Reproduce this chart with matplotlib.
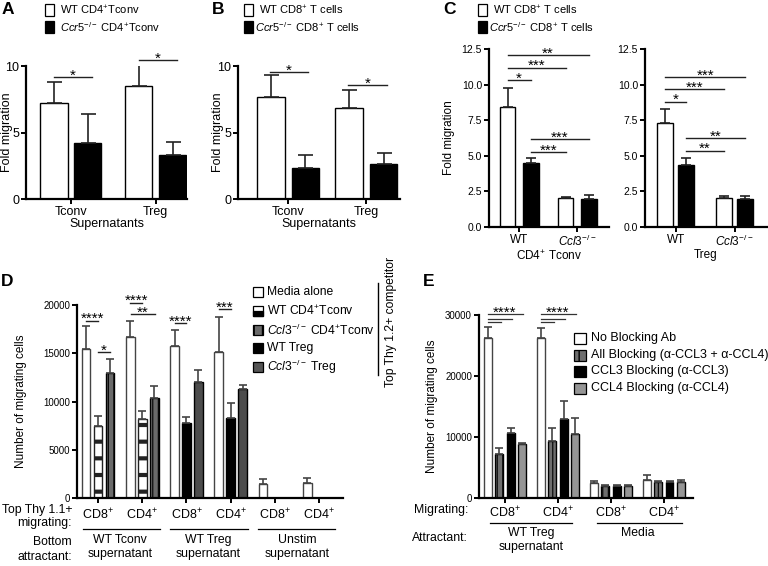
import matplotlib
matplotlib.use('Agg')
import matplotlib.pyplot as plt
import matplotlib.transforms as mtrans
from matplotlib.patches import Rectangle
from matplotlib.lines import Line2D
import numpy as np

plt.rcParams['font.family'] = ['Liberation Sans', 'DejaVu Sans']
plt.rcParams['mathtext.fontset'] = 'custom'
plt.rcParams['mathtext.rm'] = 'Liberation Sans'
plt.rcParams['mathtext.it'] = 'Liberation Sans:italic'
plt.rcParams['mathtext.bf'] = 'Liberation Sans:bold'
plt.rcParams['hatch.linewidth'] = 1.0

# ------------------------------------------------------------------ data
# Panel A (fold migration, CD4+ Tconv)
a_groups = ['Tconv', 'Treg']
a_wt = [7.2, 8.5]
a_wt_err = [1.6, 1.65]
a_ko = [4.2, 3.3]
a_ko_err = [2.2, 0.95]
a_sig = [(-0.2, 0.25, 9.15, '*'), (0.8, 1.25, 10.45, '*')]

# Panel B (fold migration, CD8+ T cells)
b_groups = ['Tconv', 'Treg']
b_wt = [7.65, 6.85]
b_wt_err = [1.7, 1.35]
b_ko = [2.35, 2.65]
b_ko_err = [0.95, 0.8]
b_sig = [(-0.23, 0.25, 9.55, '*'), (0.77, 1.27, 8.55, '*')]

# Panel C (fold migration, CD8+ T cells to supernatants)
c_groups = ['WT', '$\\mathit{Ccl3}^{\\mathit{-/-}}$']
c1_wt = [8.45, 2.06]
c1_wt_err = [1.3, 0.07]
c1_ko = [4.49, 1.94]
c1_ko_err = [0.35, 0.28]
c1_sig = [(-0.2, 1.2, 12.08, '**'), (-0.2, 0.8, 11.19, '***'), (-0.2, 0.2, 10.32, '*'),
          (0.2, 1.2, 6.17, '***'), (0.2, 0.8, 5.28, '***')]
c2_wt = [7.28, 2.01]
c2_wt_err = [0.98, 0.2]
c2_ko = [4.35, 1.99]
c2_ko_err = [0.47, 0.2]
c2_sig = [(-0.18, 1.18, 10.51, '***'), (-0.18, 0.82, 9.67, '***'), (-0.18, 0.18, 8.8, '*'),
          (0.18, 1.18, 6.23, '**'), (0.18, 0.82, 5.36, '**')]

# Panel D (number of migrating cells)
d_groups = ['CD8$^{+}$', 'CD4$^{+}$', 'CD8$^{+}$', 'CD4$^{+}$', 'CD8$^{+}$', 'CD4$^{+}$']
d_media = [15400, 16700, 15800, 15150, 1420, 1590]
d_media_err = [2450, 1650, 1560, 3570, 550, 510]
d_tconv_wt = [7500, 8150]          # WT CD4+Tconv competitor (groups 0,1)
d_tconv_wt_err = [1030, 900]
d_tconv_ko = [12920, 10330]        # Ccl3-/- CD4+Tconv competitor (groups 0,1)
d_tconv_ko_err = [1520, 1270]
d_treg_wt = [7740, 8260]           # WT Treg competitor (groups 2,3)
d_treg_wt_err = [690, 1550]
d_treg_ko = [11990, 11260]         # Ccl3-/- Treg competitor (groups 2,3)
d_treg_ko_err = [1240, 450]
d_sig = [(-0.27, 0.0, 18370, '****'), (0.0, 0.27, 15100, '*'),
         (0.73, 1.0, 20250, '****'), (0.75, 1.29, 19070, '**'),
         (1.73, 2.0, 18100, '****'), (2.73, 3.0, 19550, '***')]

# Panel E (number of migrating cells, blocking)
e_groups = ['CD8$^{+}$', 'CD4$^{+}$', 'CD8$^{+}$', 'CD4$^{+}$']
e_none = [26200, 26300, 2450, 2930]
e_none_err = [1900, 1500, 270, 870]
e_all = [7280, 9350, 1900, 2550]
e_all_err = [980, 2170, 220, 280]
e_ccl3 = [10700, 12880, 2000, 2660]
e_ccl3_err = [710, 2990, 170, 110]
e_ccl4 = [8800, 10540, 2000, 2660]
e_ccl4_err = [280, 2610, 170, 330]
e_sig_levels = [30100, 29400, 28800]

# ------------------------------------------------------------------ helpers
W, H = 768, 566
fig = plt.figure(figsize=(W / 100, H / 100), dpi=100)
STAR_FS = 11
STAR_OFF = -1.8


def add_ax(l, t, r, b):
    return fig.add_axes([l / W, 1 - b / H, (r - l) / W, (b - t) / H])


def fx(x):
    return x / W


def fy(y):
    return 1 - y / H


def style(ax, fs):
    for s in ('top', 'right'):
        ax.spines[s].set_visible(False)
    for s in ('left', 'bottom'):
        ax.spines[s].set_linewidth(1.6)
    ax.tick_params(direction='out', length=3.5, width=1.4, labelsize=fs, pad=1.5)


def bars(ax, x, vals, errs, width, fc, capsize, hatch=None, hlw=None, ec='black',
         errc='#222222'):
    b = ax.bar(x, vals, width, color=fc, edgecolor=ec, linewidth=1.0, hatch=hatch, zorder=2)
    if hlw is not None:
        for p in b:
            try:
                p.set_hatch_linewidth(hlw)
            except Exception:
                pass
    ax.errorbar(x, vals, yerr=[np.zeros(len(vals)), errs], fmt='none', ecolor=errc,
                elinewidth=1.2, capsize=capsize, capthick=1.2, zorder=3)
    return b


def sig(ax, x1, x2, y, label, fs=STAR_FS):
    ax.plot([x1, x2], [y, y], color='#222222', lw=1.0, clip_on=False, zorder=4)
    ax.annotate(label, xy=((x1 + x2) / 2, y), xytext=(0, STAR_OFF), textcoords='offset points',
                ha='center', va='baseline', fontsize=fs, annotation_clip=False)


def leg_entry(x, y, w, h, text, fc, fs, hatch=None, half=False, tx=None):
    fig.patches.append(Rectangle((fx(x), fy(y + h / 2)), w / W, h / H, transform=fig.transFigure,
                                 facecolor=fc, edgecolor='black', linewidth=0.9, hatch=hatch))
    if half:
        fig.patches.append(Rectangle((fx(x), fy(y + h / 2)), w / W, h / 2 / H,
                                     transform=fig.transFigure, facecolor='black',
                                     edgecolor='black', linewidth=0.9))
    fig.text(fx(tx if tx is not None else x + w + 5), fy(y), text, fontsize=fs,
             ha='left', va='center')


# ------------------------------------------------------------------ Panel A
ax = add_ax(26, 66, 187, 199)
style(ax, 9)
xa = np.arange(len(a_groups))
bars(ax, xa - 0.2, a_wt, a_wt_err, 0.32, 'white', 5.4)
bars(ax, xa + 0.2, a_ko, a_ko_err, 0.32, 'black', 5.4)
ax.set_xlim(-0.53, 1.37)
ax.set_ylim(0, 10)
ax.set_yticks([0, 5, 10])
ax.set_xticks(xa, a_groups)
ax.set_xlabel('Supernatants', fontsize=9, labelpad=0)
ax.set_ylabel('Fold migration', fontsize=9, va='center')
ax.yaxis.set_label_coords((7 - 26) / (187 - 26), 0.5)
for s in a_sig:
    sig(ax, *s)
leg_entry(45, 10, 9, 11, 'WT CD4$^{+}$Tconv', 'white', 8, tx=60)
leg_entry(45, 27, 9, 11, '$\\mathit{Ccr5}^{\\mathit{-/-}}$ CD4$^{+}$Tconv', 'black', 8, tx=60)

# ------------------------------------------------------------------ Panel B
ax = add_ax(238, 66, 400, 199)
style(ax, 9)
xb = np.arange(len(b_groups))
bars(ax, xb - 0.22, b_wt, b_wt_err, 0.35, 'white', 5.4)
bars(ax, xb + 0.22, b_ko, b_ko_err, 0.35, 'black', 5.4)
ax.set_xlim(-0.64, 1.43)
ax.set_ylim(0, 10)
ax.set_yticks([0, 5, 10])
ax.set_xticks(xb, b_groups)
ax.set_xlabel('Supernatants', fontsize=9, labelpad=0)
ax.set_ylabel('Fold migration', fontsize=9, va='center')
ax.yaxis.set_label_coords((218 - 238) / (400 - 238), 0.5)
for s in b_sig:
    sig(ax, *s)
leg_entry(244, 10, 9, 11, 'WT CD8$^{+}$ T cells', 'white', 8, tx=259)
leg_entry(244, 27, 9, 11, '$\\mathit{Ccr5}^{\\mathit{-/-}}$ CD8$^{+}$ T cells', 'black', 8,
          tx=255)

# ------------------------------------------------------------------ Panel C
for (l, r, wt, wte, ko, koe, sg, xl, showy, off) in [
        (489, 609, c1_wt, c1_wt_err, c1_ko, c1_ko_err, c1_sig, 'CD4$^{+}$ Tconv', True, 0.2),
        (645, 767, c2_wt, c2_wt_err, c2_ko, c2_ko_err, c2_sig, 'Treg', False, 0.18)]:
    ax = add_ax(l, 49, r, 227)
    style(ax, 7.5)
    xc = np.arange(len(c_groups))
    bars(ax, xc - off, wt, wte, 0.27, 'white', 3.6)
    bars(ax, xc + off, ko, koe, 0.27, 'black', 3.6)
    ax.set_xlim(-0.52, 1.55)
    ax.set_ylim(0, 12.5)
    ax.set_yticks([0, 2.5, 5, 7.5, 10, 12.5], ['0.0', '2.5', '5.0', '7.5', '10.0', '12.5'])
    ax.set_xticks(xc, c_groups, fontsize=8.5)
    ax.set_xlabel(xl, fontsize=8.5, labelpad=0)
    if showy:
        ax.set_ylabel('Fold migration', fontsize=8.5, va='center')
        ax.yaxis.set_label_coords((449 - l) / (r - l), 0.5)
    for s in sg:
        sig(ax, *s)
leg_entry(478, 10, 9, 11, 'WT CD8$^{+}$ T cells', 'white', 8, tx=493)
leg_entry(478, 27, 9, 11, '$\\mathit{Ccr5}^{\\mathit{-/-}}$ CD8$^{+}$ T cells', 'black', 8,
          tx=489)

# ------------------------------------------------------------------ Panel D
ax = add_ax(77, 305, 343, 498)
style(ax, 7)
xd = np.arange(len(d_groups))
bars(ax, xd - 0.27, d_media, d_media_err, 0.2, 'white', 2.9, ec='#444444', errc='#444444')
bars(ax, xd[:2], d_tconv_wt, d_tconv_wt_err, 0.2, 'white', 2.9, hatch='-', hlw=3.0,
     ec='#222222', errc='#444444')
bars(ax, xd[:2] + 0.27, d_tconv_ko, d_tconv_ko_err, 0.2, '#6a6a6a', 2.9, hatch='|||', hlw=0.8,
     errc='#444444')
bars(ax, xd[2:4], d_treg_wt, d_treg_wt_err, 0.2, 'black', 2.9, errc='#444444')
bars(ax, xd[2:4] + 0.27, d_treg_ko, d_treg_ko_err, 0.2, '#4d4d4d', 2.9, errc='#444444')
ax.set_xlim(-0.475, 5.54)
ax.set_ylim(0, 20000)
ax.set_yticks([0, 5000, 10000, 15000, 20000])
ax.set_xticks(xd, d_groups, fontsize=9)
ax.tick_params(axis='x', pad=3)
ax.set_ylabel('Number of migrating cells', fontsize=8.5, va='center')
ax.yaxis.set_label_coords((21 - 77) / (343 - 77), 0.5)
for s in d_sig:
    sig(ax, *s)
bt = mtrans.blended_transform_factory(ax.transData, fig.transFigure)
for x1, x2 in [(-0.35, 1.4), (1.63, 3.4), (3.62, 5.36)]:
    ax.plot([x1, x2], [fy(529), fy(529)], transform=bt, color='black', lw=0.9, clip_on=False)
for xm, txt in [(0.5, 'WT Tconv\nsupernatant'), (2.5, 'WT Treg\nsupernatant'),
                (4.5, 'Unstim\nsupernatant')]:
    ax.text(xm, fy(534), txt, transform=bt, ha='center', va='top', fontsize=8.8,
            linespacing=1.25)
fig.text(fx(72), fy(510), 'Top Thy 1.1+', ha='right', va='center', fontsize=8.8)
fig.text(fx(72), fy(523), 'migrating:', ha='right', va='center', fontsize=8.8)
fig.text(fx(72), fy(542), 'Bottom', ha='right', va='center', fontsize=8.8)
fig.text(fx(72), fy(557), 'attractant:', ha='right', va='center', fontsize=8.8)

leg_entry(253, 292, 10, 10, 'Media alone', 'white', 8.7, tx=267)
leg_entry(253, 311, 10, 10, 'WT CD4$^{+}$Tconv', 'white', 8.7, half=True, tx=267)
leg_entry(253, 330, 10, 10, '$\\mathit{Ccl3}^{\\mathit{-/-}}$ CD4$^{+}$Tconv', '#6a6a6a', 8.7,
          hatch='||', tx=267)
leg_entry(253, 348, 10, 10, 'WT Treg', 'black', 8.7, tx=267)
leg_entry(253, 367, 10, 10, '$\\mathit{Ccl3}^{\\mathit{-/-}}$ Treg', '#555555', 8.7, tx=267)
fig.lines.append(Line2D([fx(378), fx(378)], [fy(283), fy(375)], transform=fig.transFigure,
                        color='black', lw=1.0))
fig.text(fx(391), fy(322), 'Top Thy 1.2+ competitor', rotation=90, ha='center', va='center',
         fontsize=8.7)

# ------------------------------------------------------------------ Panel E
ax = add_ax(479, 315, 693, 498)
style(ax, 7)
xe = np.arange(len(e_groups))
step = 0.213
bars(ax, xe - 1.5 * step, e_none, e_none_err, 0.15, 'white', 2.9, ec='#444444', errc='#444444')
bars(ax, xe - 0.5 * step, e_all, e_all_err, 0.15, '#6e6e6e', 2.9, hatch='|||', hlw=0.8,
     errc='#444444')
bars(ax, xe + 0.5 * step, e_ccl3, e_ccl3_err, 0.15, 'black', 2.9, errc='#444444')
bars(ax, xe + 1.5 * step, e_ccl4, e_ccl4_err, 0.15, '#959595', 2.9, errc='#444444')
ax.set_xlim(-0.49, 3.55)
ax.set_ylim(0, 30000)
ax.set_yticks([0, 10000, 20000, 30000])
ax.set_xticks(xe, e_groups, fontsize=9)
ax.set_ylabel('Number of migrating cells', fontsize=8.5, va='center')
ax.yaxis.set_label_coords((432 - 479) / (693 - 479), 0.5)
for g in (0, 1):
    ends = [xe[g] + 1.5 * step, xe[g] + 0.5 * step, xe[g] - 0.5 * step]
    for lvl, xend in zip(e_sig_levels, ends):
        ax.plot([xe[g] - 1.5 * step, xend + 0.03], [lvl, lvl], color='#333333', lw=0.9,
                clip_on=False)
    ax.annotate('****', xy=(xe[g], e_sig_levels[0]), xytext=(0, STAR_OFF),
                textcoords='offset points', ha='center', va='baseline', fontsize=STAR_FS,
                annotation_clip=False)
bt = mtrans.blended_transform_factory(ax.transData, fig.transFigure)
for x1, x2 in [(-0.28, 1.26), (1.74, 3.34)]:
    ax.plot([x1, x2], [fy(523), fy(523)], transform=bt, color='black', lw=0.9, clip_on=False)
ax.text(0.5, fy(527), 'WT Treg\nsupernatant', transform=bt, ha='center', va='top',
        fontsize=8.8, linespacing=1.25)
ax.text(2.5, fy(527), 'Media', transform=bt, ha='center', va='top', fontsize=8.8)
fig.text(fx(468), fy(510), 'Migrating:', ha='right', va='center', fontsize=8.8)
fig.text(fx(468), fy(538), 'Attractant:', ha='right', va='center', fontsize=8.8)

leg_entry(574, 338, 12, 11, 'No Blocking Ab', 'white', 9, tx=591)
leg_entry(574, 355, 12, 11, 'All Blocking (α-CCL3 + α-CCL4)', '#6e6e6e', 9, hatch='||',
          tx=591)
leg_entry(574, 371, 12, 11, 'CCL3 Blocking (α-CCL3)', 'black', 9, tx=591)
leg_entry(574, 388, 12, 11, 'CCL4 Blocking (α-CCL4)', '#959595', 9, tx=591)

# ------------------------------------------------------------------ panel letters
for lx, ly, lt in [(8, 9, 'A'), (218, 9, 'B'), (449, 9, 'C'), (7, 281, 'D'), (429, 282, 'E')]:
    fig.text(fx(lx), fy(ly), lt, ha='center', va='center', fontsize=12.5, fontweight='bold')

fig.savefig('out.png', dpi=100)
